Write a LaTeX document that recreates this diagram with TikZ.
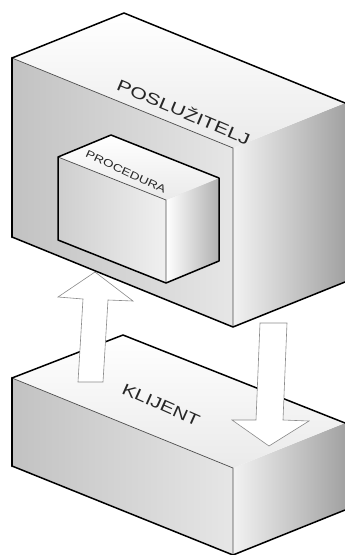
\documentclass[tikz,border=0pt]{standalone}
\usepackage{fontspec}
\setmainfont{Liberation Sans}
\definecolor{frontL}{HTML}{C2C2C2}
\definecolor{frontR}{HTML}{E6E6E6}
\definecolor{sideL}{HTML}{F2F2F2}
\definecolor{sideR}{HTML}{A2A2A2}
\definecolor{topB}{HTML}{EAEAEA}
\definecolor{arrowline}{HTML}{8A8A8A}
\begin{document}
\begin{tikzpicture}[x=1pt,y=-1pt,
  edge/.style={line width=1.5pt, line join=round, line cap=round},
  leftedge/.style={line width=2.6pt, line cap=round},
  inneredge/.style={line width=0.7pt, draw=black!70},
  blockarrow/.style={fill=white, draw=arrowline, line width=0.6pt, line join=miter},
  frontface/.style={left color=frontL, right color=frontR},
  sideface/.style={left color=sideL, right color=sideR},
  topface/.style={top color=white, bottom color=topB},
  lbl/.style={inner sep=0pt, text=black!85}]
\useasboundingbox (0,0) rectangle (345,555);

% ---------- client box ----------
\coordinate (C1) at (12,378);
\coordinate (C2) at (233,468);
\coordinate (C3) at (233,555);
\coordinate (C4) at (12,466);
\coordinate (C5) at (123,335);
\coordinate (C6) at (345,423);
\coordinate (C7) at (345,510);
\shade[frontface] (C1)--(C2)--(C3)--(C4)--cycle;
\shade[sideface] (C2)--(C6)--(C7)--(C3)--cycle;
\shade[topface] (C1)--(C5)--(C6)--(C2)--cycle;
\draw[inneredge] (C1)--(C2)--(C3);
\draw[edge] (C1)--(C5)--(C6);
\draw[edge] (C4)--(C3)--(C7);
\draw[leftedge] (C1)--(C4);
\node[lbl, font=\fontsize{16}{16}\selectfont, rotate=-24, xscale=1.3] (klijent) at (161,405) {KLIJENT};

% ---------- arrows ----------
\coordinate (U1) at (95,272);
\coordinate (U2) at (133,301);
\coordinate (U3) at (108,300);
\coordinate (U4) at (103,382);
\coordinate (U5) at (78,382);
\coordinate (U6) at (83,299);
\coordinate (U7) at (58,297);
\draw[blockarrow] (U1)--(U2)--(U3)--(U4)--(U5)--(U6)--(U7)--cycle;

\coordinate (D1) at (260,323);
\coordinate (D2) at (287,323);
\coordinate (D3) at (283,420);
\coordinate (D4) at (309,421);
\coordinate (D5) at (269,446);
\coordinate (D6) at (232,420);
\coordinate (D7) at (256,420);
\draw[blockarrow] (D1)--(D2)--(D3)--(D4)--(D5)--(D6)--(D7)--cycle;

% ---------- server box ----------
\coordinate (S1) at (12,58);
\coordinate (S2) at (233,148);
\coordinate (S3) at (233,327);
\coordinate (S4) at (12,237);
\coordinate (S5) at (124,13);
\coordinate (S6) at (345,103);
\coordinate (S7) at (345,282);
\shade[frontface] (S1)--(S2)--(S3)--(S4)--cycle;
\shade[sideface] (S2)--(S6)--(S7)--(S3)--cycle;
\shade[topface] (S1)--(S5)--(S6)--(S2)--cycle;
\draw[inneredge] (S1)--(S2)--(S3);
\draw[edge] (S1)--(S5)--(S6);
\draw[edge] (S4)--(S3)--(S7);
\draw[leftedge] (S1)--(S4);
\node[lbl, font=\fontsize{16}{16}\selectfont, rotate=-23, xscale=1.35] (server) at (184,111) {POSLUŽITELJ};

% ---------- procedure box ----------
\coordinate (P1) at (58,157);
\coordinate (P2) at (166,200);
\coordinate (P3) at (166,283);
\coordinate (P4) at (58,240);
\coordinate (P5) at (111,135);
\coordinate (P6) at (219,178);
\coordinate (P7) at (219,261);
\shade[left color=frontL!80!white, right color=frontR!60!white] (P1)--(P2)--(P3)--(P4)--cycle;
\shade[left color=white, right color=sideR!85!white] (P2)--(P6)--(P7)--(P3)--cycle;
\shade[topface] (P1)--(P5)--(P6)--(P2)--cycle;
\draw[inneredge] (P1)--(P2)--(P3);
\draw[edge] (P4)--(P1)--(P5)--(P6)--(P7)--(P3)--cycle;
\node[lbl, font=\fontsize{10.5}{10.5}\selectfont, rotate=-25, xscale=1.3] (proc) at (126,172) {PROCEDURA};
\end{tikzpicture}
\end{document}
